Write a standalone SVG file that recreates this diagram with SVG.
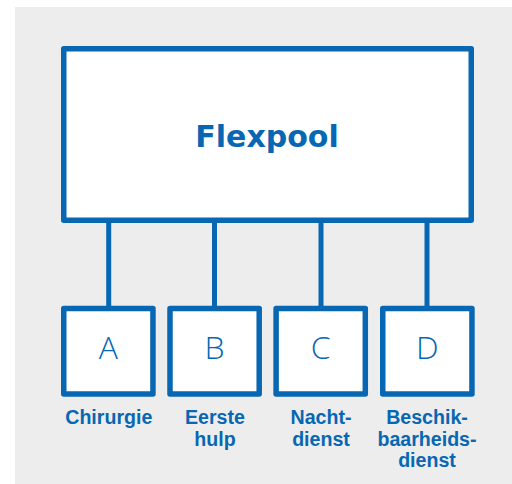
<svg xmlns="http://www.w3.org/2000/svg" width="512" height="484" viewBox="0 0 512 484">
<style>
.box{fill:#ffffff;stroke:#0767b2;stroke-width:5.5;stroke-linejoin:round}
.conn{stroke:#0767b2;stroke-width:5;fill:none}
.letter{font-family:"Open Sans","Liberation Sans",sans-serif;font-weight:300;font-size:32px;fill:#0767b2;text-anchor:middle}
.lbl{font-family:"Liberation Sans",Arial,sans-serif;font-weight:bold;font-size:19.6px;fill:#0767b2;text-anchor:middle}
.title{font-family:"DejaVu Sans",sans-serif;font-weight:bold;font-size:30px;fill:#0767b2;text-anchor:middle}
</style>
<rect x="15" y="7" width="497" height="477" fill="#ededed"/>
<g id="connectors">
<line class="conn" x1="108.7" y1="220" x2="108.7" y2="309"/>
<line class="conn" x1="214.5" y1="220" x2="214.5" y2="309"/>
<line class="conn" x1="321" y1="220" x2="321" y2="309"/>
<line class="conn" x1="427" y1="220" x2="427" y2="309"/>
</g>
<g id="flexpool">
<rect class="box" x="63.75" y="48.75" width="407.5" height="171.5"/>
<text class="title" x="267" y="146.5">Flexpool</text>
</g>
<g id="nodeA">
<rect class="box" x="63.75" y="308.5" width="89.2" height="85.4"/>
<text class="letter" x="108.4" y="359.3">A</text>
<text class="lbl" x="108.8" y="424">Chirurgie</text>
</g>
<g id="nodeB">
<rect class="box" x="170" y="308.5" width="89.2" height="85.4"/>
<text class="letter" x="214.6" y="359.3">B</text>
<text class="lbl" x="215" y="424">Eerste</text>
<text class="lbl" x="215" y="445.5">hulp</text>
</g>
<g id="nodeC">
<rect class="box" x="276.1" y="308.5" width="89.2" height="85.4"/>
<text class="letter" x="320.7" y="359.3">C</text>
<text class="lbl" x="321" y="424">Nacht-</text>
<text class="lbl" x="321" y="445.5">dienst</text>
</g>
<g id="nodeD">
<rect class="box" x="382.75" y="308.5" width="89.2" height="85.4"/>
<text class="letter" x="427.3" y="359.3">D</text>
<text class="lbl" x="427" y="424">Beschik-</text>
<text class="lbl" x="427" y="445.5">baarheids-</text>
<text class="lbl" x="427" y="467">dienst</text>
</g>
</svg>
